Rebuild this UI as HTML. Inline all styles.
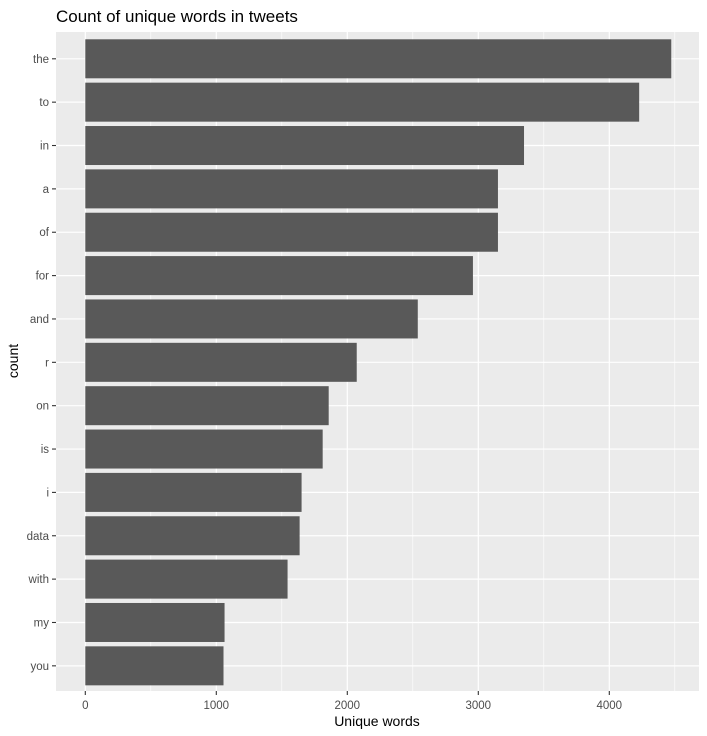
<!DOCTYPE html>
<html><head><meta charset="utf-8"><style>
body{margin:0;background:#fff}
svg{display:block;font-family:"Liberation Sans",Arial,sans-serif}
</style></head><body>
<svg id="chart" width="707" height="736" viewBox="0 0 707 736">
<text x="56" y="22" font-size="17" fill="#000">Count of unique words in tweets</text>
<rect x="56" y="32" width="643" height="659" fill="#ebebeb"/>
<g id="grid"></g><g id="bars"></g><g id="axes"></g>
<text x="377" y="726" font-size="14" text-anchor="middle" fill="#000">Unique words</text>
<text transform="translate(18,361) rotate(-90)" font-size="14" text-anchor="middle" fill="#000">count</text>
</svg>
<script>
const categories=["the","to","in","a","of","for","and","r","on","is","i","data","with","my","you"];
const values=[4473,4228,3349,3150,3150,2959,2538,2072,1858,1812,1651,1636,1544,1063,1055];
const xTicks=[0,1000,2000,3000,4000];
const xMinor=[500,1500,2500,3500,4500];
const NS="http://www.w3.org/2000/svg";
const x=v=>85.3+v*0.131;
const step=43.36, y=i=>58.8+i*step, bh=39;
function mk(tag,attrs,parent){const e=document.createElementNS(NS,tag);for(const k in attrs)e.setAttribute(k,attrs[k]);document.getElementById(parent).appendChild(e);return e;}
xMinor.forEach(v=>{const l=mk('line',{x1:x(v),x2:x(v),y1:32,y2:691,stroke:'#fff','stroke-width':0.6},'grid');

});
xTicks.forEach(v=>{const l=mk('line',{x1:x(v),x2:x(v),y1:32,y2:691,stroke:'#fff','stroke-width':1.2},'grid');


const t=mk('line',{x1:x(v),x2:x(v),y1:691,y2:695,stroke:'#333','stroke-width':1.1},'axes');


const tx=mk('text',{x:x(v),y:709,'font-size':11.5,'text-anchor':'middle',fill:'#4d4d4d'},'axes');tx.textContent=v;

});
categories.forEach((c,i)=>{const l=mk('line',{x1:56,x2:699,y1:y(i),y2:y(i),stroke:'#fff','stroke-width':1.2},'grid');


const r=mk('rect',{x:x(0),y:y(i)-bh/2,width:x(values[i])-x(0),height:bh,fill:'#595959'},'bars');


const t=mk('line',{x1:52,x2:56,y1:y(i),y2:y(i),stroke:'#333','stroke-width':1.1},'axes');


const tx=mk('text',{x:49,y:y(i)+4,'font-size':11.5,'text-anchor':'end',fill:'#4d4d4d'},'axes');tx.textContent=c;

});
</script>
</body></html>
